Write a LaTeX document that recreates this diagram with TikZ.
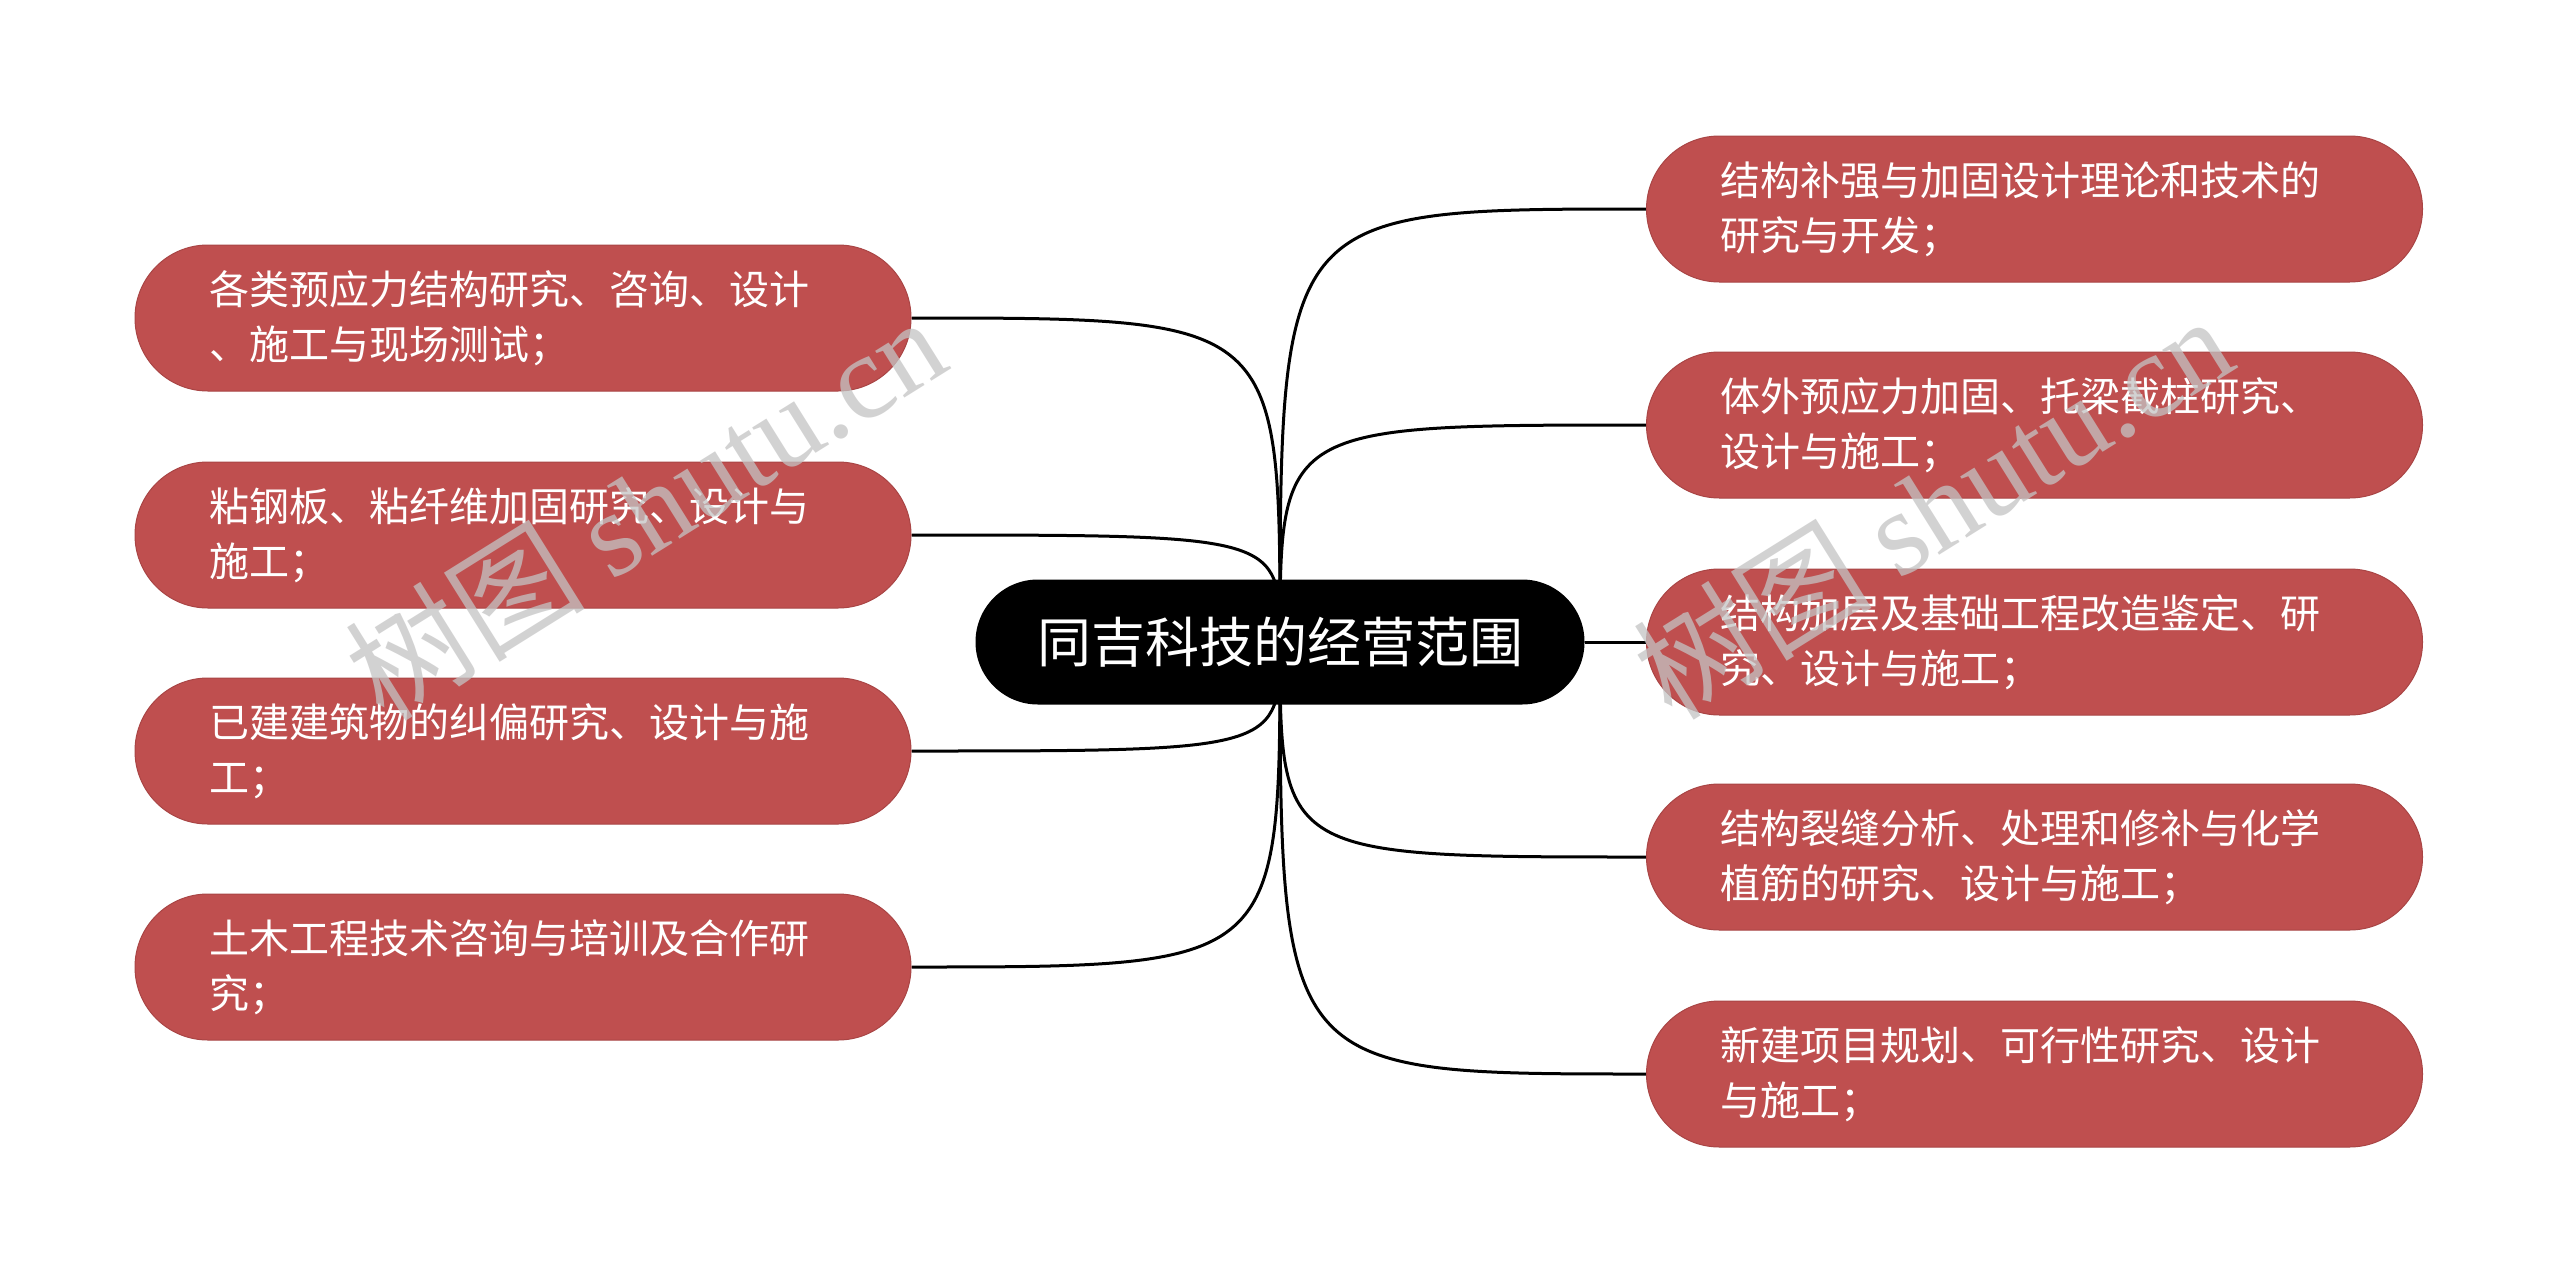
\documentclass[tikz,border=0pt]{standalone}
\usepackage{fontspec}
\setmainfont{Noto Sans CJK SC}
\newfontfamily\cjk{Noto Sans CJK SC}
\newfontfamily\wmserif{Liberation Serif}
\usetikzlibrary{backgrounds}
\definecolor{leafred}{HTML}{BF4F4F}
\definecolor{leafedge}{HTML}{A94545}
\definecolor{wmgray}{HTML}{C4C4C4}
\begin{document}
\begin{tikzpicture}[x=1pt,y=-1pt,
  leaf/.style={draw=leafedge, line width=1pt, fill=leafred, text=white,
    rounded corners=72.9pt, minimum height=146pt, text width=628pt,
    inner xsep=74pt, inner ysep=0pt, align=left,
    font=\fontsize{40}{55}\selectfont},
  hub/.style={fill=black, text=white, rounded corners=62.4pt,
    minimum width=609pt, minimum height=125pt, inner sep=0pt,
    font=\fontsize{54}{64}\selectfont},
  link/.style={line width=3pt, black},
  wm/.style={text=wmgray, opacity=0.75, rotate=32, inner sep=0pt,
    font=\fontsize{120}{128}\selectfont}]
\useasboundingbox (0,0) rectangle (2560,1285);

\node[hub] (hub) at (1280,642) {同吉科技的经营范围};

\node[leaf] (l1) at (523,318) {各类预应力结构研究、咨询、设计\\、施工与现场测试；};
\node[leaf] (l2) at (523,535) {粘钢板、粘纤维加固研究、设计与\\施工；};
\node[leaf] (l3) at (523,751) {已建建筑物的纠偏研究、设计与施\\工；};
\node[leaf] (l4) at (523,967) {土木工程技术咨询与培训及合作研\\究；};

\node[leaf] (r1) at (2034.5,209) {结构补强与加固设计理论和技术的\\研究与开发；};
\node[leaf] (r2) at (2034.5,425) {体外预应力加固、托梁截柱研究、\\设计与施工；};
\node[leaf] (r3) at (2034.5,642) {结构加层及基础工程改造鉴定、研\\究、设计与施工；};
\node[leaf] (r4) at (2034.5,857) {结构裂缝分析、处理和修补与化学\\植筋的研究、设计与施工；};
\node[leaf] (r5) at (2034.5,1074) {新建项目规划、可行性研究、设计\\与施工；};

\begin{scope}[on background layer]
  \fill[white] (0,0) rectangle (2560,1285);
  \foreach \n in {l1,l2,l3,l4}
    \draw[link] (hub.center) .. controls (hub.center |- \n.east) .. (\n.east);
  \foreach \n in {r1,r2,r4,r5}
    \draw[link] (hub.center) .. controls (hub.center |- \n.west) .. (\n.west);
  \draw[link] (hub.east) -- (r3.west);
\end{scope}

\node[wm] (wm1) at (645,507) {{\cjk 树图} {\wmserif shutu.cn}};
\node[wm] (wm2) at (1932,506) {{\cjk 树图} {\wmserif shutu.cn}};
\end{tikzpicture}
\end{document}
